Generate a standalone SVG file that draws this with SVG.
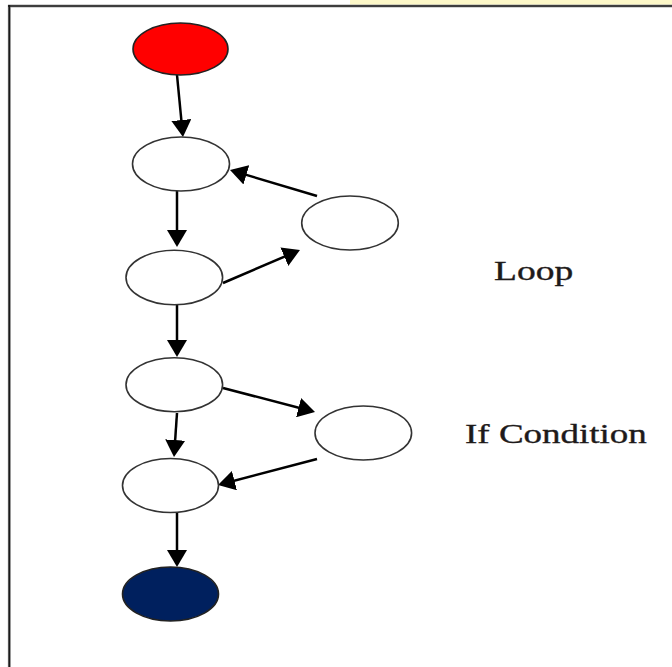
<svg xmlns="http://www.w3.org/2000/svg" width="672" height="667" viewBox="0 0 672 667">
  <defs>
    <marker id="arrow" markerUnits="userSpaceOnUse" markerWidth="17" markerHeight="20" refX="14" refY="10" orient="auto">
      <path d="M0,0 L17,10 L0,20 z" fill="#000"/>
    </marker>
    <style>
      .node { fill: #fff; stroke: #333; stroke-width: 1.6; }
      .start { fill: #ff0000; stroke: #222; stroke-width: 1.6; }
      .end { fill: #00205e; stroke: #222; stroke-width: 1.6; }
      .edge { stroke: #000; stroke-width: 2.5; fill: none; marker-end: url(#arrow); }
      .label { font-family: "Liberation Serif", "Times New Roman", serif; font-size: 27px; fill: #1e1a1a; stroke: #1e1a1a; stroke-width: 0.35; }
    </style>
  </defs>

  <!-- page background and frame -->
  <rect x="0" y="0" width="672" height="667" fill="#fff"/>
  <rect x="350" y="0" width="322" height="5" fill="#fdf8c8"/>
  <line x1="8" y1="6" x2="672" y2="6" stroke="#aaa" stroke-width="3"/>
  <line x1="9.3" y1="5" x2="9.3" y2="667" stroke="#aaa" stroke-width="3"/>
  <line x1="8" y1="6" x2="672" y2="6" stroke="#1a1a1a" stroke-width="1.6"/>
  <line x1="9.3" y1="5" x2="9.3" y2="667" stroke="#1a1a1a" stroke-width="1.8"/>

  <!-- connectors -->
  <g id="edges">
    <line class="edge" x1="177" y1="75" x2="182.7" y2="134"/>
    <line class="edge" x1="177" y1="191" x2="177" y2="244"/>
    <line class="edge" x1="317" y1="196" x2="232.9" y2="170.9"/>
    <line class="edge" x1="223" y1="283" x2="297.2" y2="251.2"/>
    <line class="edge" x1="177" y1="305" x2="177" y2="354"/>
    <line class="edge" x1="223" y1="388" x2="312.1" y2="411.2"/>
    <line class="edge" x1="177" y1="413" x2="174.2" y2="454"/>
    <line class="edge" x1="317" y1="459" x2="220.9" y2="484.2"/>
    <line class="edge" x1="177" y1="513" x2="177" y2="564"/>
  </g>

  <!-- nodes -->
  <g id="start"><ellipse class="start" cx="180.5" cy="49" rx="47.5" ry="26"/></g>
  <g id="n1"><ellipse class="node" cx="181" cy="164" rx="48.5" ry="27"/></g>
  <g id="loop"><ellipse class="node" cx="350" cy="223" rx="48.3" ry="27"/></g>
  <g id="n2"><ellipse class="node" cx="174.3" cy="277.5" rx="48.3" ry="27.3"/></g>
  <g id="n3"><ellipse class="node" cx="174.3" cy="384.7" rx="48.3" ry="27"/></g>
  <g id="cond"><ellipse class="node" cx="363.3" cy="433" rx="48.3" ry="27"/></g>
  <g id="n4"><ellipse class="node" cx="170.5" cy="485.5" rx="48" ry="27"/></g>
  <g id="end"><ellipse class="end" cx="170.5" cy="594" rx="48" ry="27"/></g>

  <!-- side labels, set in a horizontally widened serif -->
  <g id="labels">
    <text class="label" transform="translate(494,280) scale(1.39,1)">Loop</text>
    <text class="label" transform="translate(465,443) scale(1.37,1)">If Condition</text>
  </g>
</svg>
